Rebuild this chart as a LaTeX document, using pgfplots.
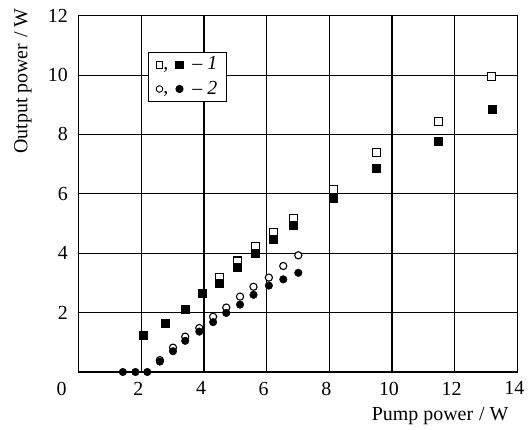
\documentclass[border=0pt]{standalone}
\usepackage{fontspec}
\setmainfont{Liberation Serif}
\usepackage{pgfplots}
\pgfplotsset{compat=1.18}
\begin{document}
\fontsize{20}{24}\selectfont
\begin{tikzpicture}
\path[use as bounding box] (-78.7bp,-58bp) rectangle (449.3bp,372bp);
\begin{axis}[
  scale only axis,
  width=438.6bp, height=356.3bp,
  xmin=0, xmax=14, ymin=0, ymax=12,
  xtick={2,4,...,14}, ytick={2,4,...,12},
  extra x ticks={0}, extra x tick labels={0},
  extra x tick style={grid=none, xticklabel style={xshift=-14bp}},
  grid=major,
  major grid style={black, line width=1.1bp},
  axis line style={black, line width=1.1bp},
  tick style={draw=none},
  clip=false,
  font=\fontsize{20}{24}\selectfont,
  /pgf/number format/assume math mode=true,
  xticklabel style={xshift=-3bp, yshift=-3bp},
  yticklabel style={xshift=-4bp},
  xlabel={Pump power\hspace{0.3em}/\hspace{0.25em}W},
  ylabel={Output power\hspace{0.3em}/\hspace{0.25em}W},
  xlabel style={at={(axis description cs:1,0)}, anchor=north east, yshift=-29bp, xshift=-2bp},
  ylabel style={at={(axis description cs:-0.092,1.04)}, anchor=south east},
  legend style={at={(axis cs:2.21,10.77)}, anchor=north west, draw=black, line width=1.1bp,
    font=\fontsize{20}{24}\selectfont, inner xsep=7bp, inner ysep=2bp, row sep=4bp},
  legend cell align=left,
]
% series 1 open squares
\addplot[only marks, mark=square*, mark size=4bp, mark options={fill=white, draw=black, line width=1.1bp}, forget plot]
coordinates {(13.19,9.94) (11.48,8.45) (9.51,7.38) (8.13,6.16) (6.85,5.17) (6.21,4.70) (5.64,4.22) (5.06,3.74) (4.49,3.18)};
% series 1 filled squares
\addplot[only marks, mark=square*, mark size=4bp, mark options={fill=black, draw=black}, forget plot]
coordinates {(13.19,8.84) (11.48,7.76) (9.51,6.88) (8.13,5.85) (6.85,4.95) (6.21,4.47) (5.64,4.00) (5.06,3.52) (4.49,2.99) (3.95,2.64) (3.39,2.13) (2.77,1.66) (2.06,1.25)};
% series 2 open circles
\addplot[only marks, mark=*, mark size=3.6bp, mark options={fill=white, draw=black, line width=1.1bp}, forget plot]
coordinates {(7.01,3.93) (6.53,3.57) (6.07,3.18) (5.58,2.87) (5.15,2.54) (4.71,2.17) (4.29,1.86) (3.85,1.48) (3.40,1.19) (3.01,0.82) (2.59,0.40)};
% series 2 filled circles
\addplot[only marks, mark=*, mark size=3.8bp, mark options={fill=black, draw=black}, forget plot]
coordinates {(7.01,3.34) (6.53,3.12) (6.07,2.91) (5.58,2.60) (5.15,2.27) (4.71,1.99) (4.29,1.68) (3.85,1.36) (3.40,1.05) (3.01,0.70) (2.59,0.35) (2.19,0) (1.81,0) (1.41,0)};
\addlegendimage{legend image code/.code={
  \draw[mark=square*, mark size=3.3bp, mark options={fill=white, draw=black, line width=0.9bp}] plot coordinates {(0bp,0bp)};
  \node[inner sep=0pt, anchor=base] at (6.5bp,-5bp) {,};
  \draw[mark=square*, mark size=3.5bp, mark options={fill=black}] plot coordinates {(20bp,0bp)};
  \path[draw=none] (-4bp,0bp) -- (31bp,0bp);
}}
\addlegendentry{\textendash\ \textit{1}\hspace{6bp}}
\addlegendimage{legend image code/.code={
  \draw[mark=*, mark size=3.3bp, mark options={fill=white, draw=black, line width=0.9bp}] plot coordinates {(0bp,0bp)};
  \node[inner sep=0pt, anchor=base] at (6.5bp,-5bp) {,};
  \draw[mark=*, mark size=3.5bp, mark options={fill=black}] plot coordinates {(20bp,0bp)};
  \path[draw=none] (-4bp,0bp) -- (31bp,0bp);
}}
\addlegendentry{\textendash\ \textit{2}\hspace{6bp}}
\end{axis}
\end{tikzpicture}
\end{document}
